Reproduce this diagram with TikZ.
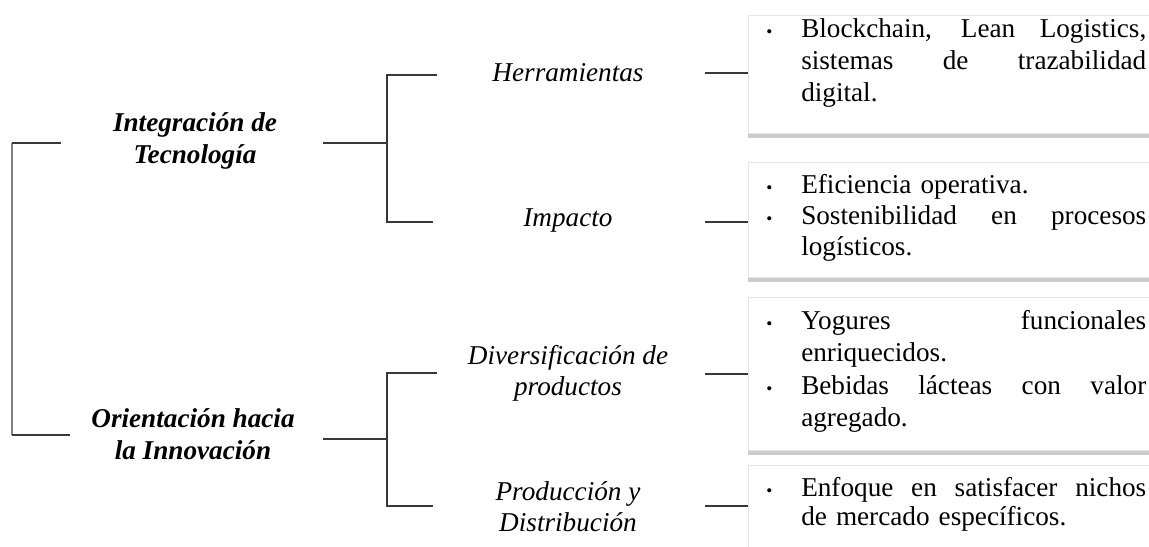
\documentclass[tikz,border=0pt]{standalone}
\usepackage{fontspec}
\setmainfont{Liberation Serif}
\usetikzlibrary{shadows}
\newcommand{\bulsym}{\hspace*{1.5pt}{\fontsize{13}{13}\selectfont\textbullet}}
\newcommand{\jline}[1]{\makebox[258.75pt][s]{\spaceskip=0.25em plus 1fil\xspaceskip=0.25em plus 1fil\relax #1}}
\newcommand{\bitem}[1]{\makebox[27.75pt][l]{\bulsym}\jline{#1}}
\newcommand{\bone}[1]{\makebox[27.75pt][l]{\bulsym}#1}
\newcommand{\bcont}[1]{\hspace*{27.75pt}\jline{#1}}
\newcommand{\blast}[1]{\hspace*{27.75pt}#1}
\begin{document}
\begin{tikzpicture}[x=0.75pt,y=-0.75pt,
  conn/.style={draw=black!78,line width=1.4pt},
  connlight/.style={draw=black!50,line width=1.6pt},
  head/.style={font=\fontsize{20.4}{24}\selectfont\bfseries\itshape,align=center,inner sep=0pt},
  sub/.style={font=\fontsize{20.4}{23}\selectfont\itshape,align=center,inner sep=0pt},
  card/.style={fill=white,draw=black!10,line width=0.6pt,inner sep=0pt,anchor=north west,
    drop shadow={shadow xshift=-0.6pt,shadow yshift=-3.2pt,opacity=0.4}},
  items/.style={text width=292pt,align=left,inner sep=0pt,anchor=base west}
]
\useasboundingbox (0,0) rectangle (1149,546);

% cards (their right side runs off the picture)
\node[card,minimum width=312pt,minimum height=88.5pt] (b1) at (748,15) {};
\node[card,minimum width=312pt,minimum height=86.25pt] (b2) at (748,162) {};
\node[card,minimum width=312pt,minimum height=114.75pt] (b3) at (748,297) {};
\node[card,minimum width=312pt,minimum height=72pt] (b4) at (748,465) {};

% card texts
\node[items,font=\fontsize{20.4}{24}\selectfont] (t1) at (764,37) {\bitem{Blockchain, Lean Logistics,}\\\bcont{sistemas de trazabilidad}\\\blast{digital.}};
\node[items,font=\fontsize{20.4}{23.4}\selectfont] (t2) at (764,193) {\bone{Eficiencia operativa.}\\\bitem{Sostenibilidad en procesos}\\\blast{logísticos.}};
\node[items,font=\fontsize{20.4}{24.4}\selectfont] (t3) at (764,329) {\bitem{Yogures funcionales}\\\blast{enriquecidos.}\\\bitem{Bebidas lácteas con valor}\\\blast{agregado.}};
\node[items,font=\fontsize{20.4}{21.9}\selectfont] (t4) at (764,496) {\bitem{Enfoque en satisfacer nichos}\\\blast{de mercado específicos.}};

% headings
\node[head] (h1) at (195,141) {Integración de\\Tecnología};
\node[head] (h2) at (193,434) {Orientación hacia\\la Innovación};

% sub labels
\node[sub] (s1) at (568,73) {Herramientas};
\node[sub] (s2) at (568,220) {Impacto};
\node[sub] (s3) at (568,373) {Diversificación de\\productos};
\node[sub] (s4) at (568,507) {Producción y\\Distribución};

% left bracket
\coordinate (lt) at (61,143);
\coordinate (lc) at (12,143);
\coordinate (lcb) at (12,435);
\coordinate (lb) at (70,435);
\draw[connlight] (lc) -- (lcb);
\draw[conn] (lt) -- (lc);
\draw[conn] (lcb) -- (lb);

% first sub-bracket
\coordinate (a0) at (323,143);
\coordinate (a1) at (387,143);
\coordinate (a2) at (387,75);
\coordinate (a3) at (437,75);
\coordinate (a4) at (387,222);
\coordinate (a5) at (433,222);
\draw[conn] (a0) -- (a1);
\draw[conn] (a3) -- (a2) -- (a4) -- (a5);

% second sub-bracket
\coordinate (c0) at (323,439);
\coordinate (c1) at (387,439);
\coordinate (c2) at (387,373);
\coordinate (c3) at (437,373);
\coordinate (c4) at (387,506);
\coordinate (c5) at (433,506);
\draw[conn] (c0) -- (c1);
\draw[conn] (c3) -- (c2) -- (c4) -- (c5);

% connectors to cards
\coordinate (r1) at (705,73);
\coordinate (r2) at (705,222);
\coordinate (r3) at (705,374);
\coordinate (r4) at (705,506);
\draw[conn] (r1) -- (r1 -| b1.west);
\draw[conn] (r2) -- (r2 -| b2.west);
\draw[conn] (r3) -- (r3 -| b3.west);
\draw[conn] (r4) -- (r4 -| b4.west);
\end{tikzpicture}
\end{document}
